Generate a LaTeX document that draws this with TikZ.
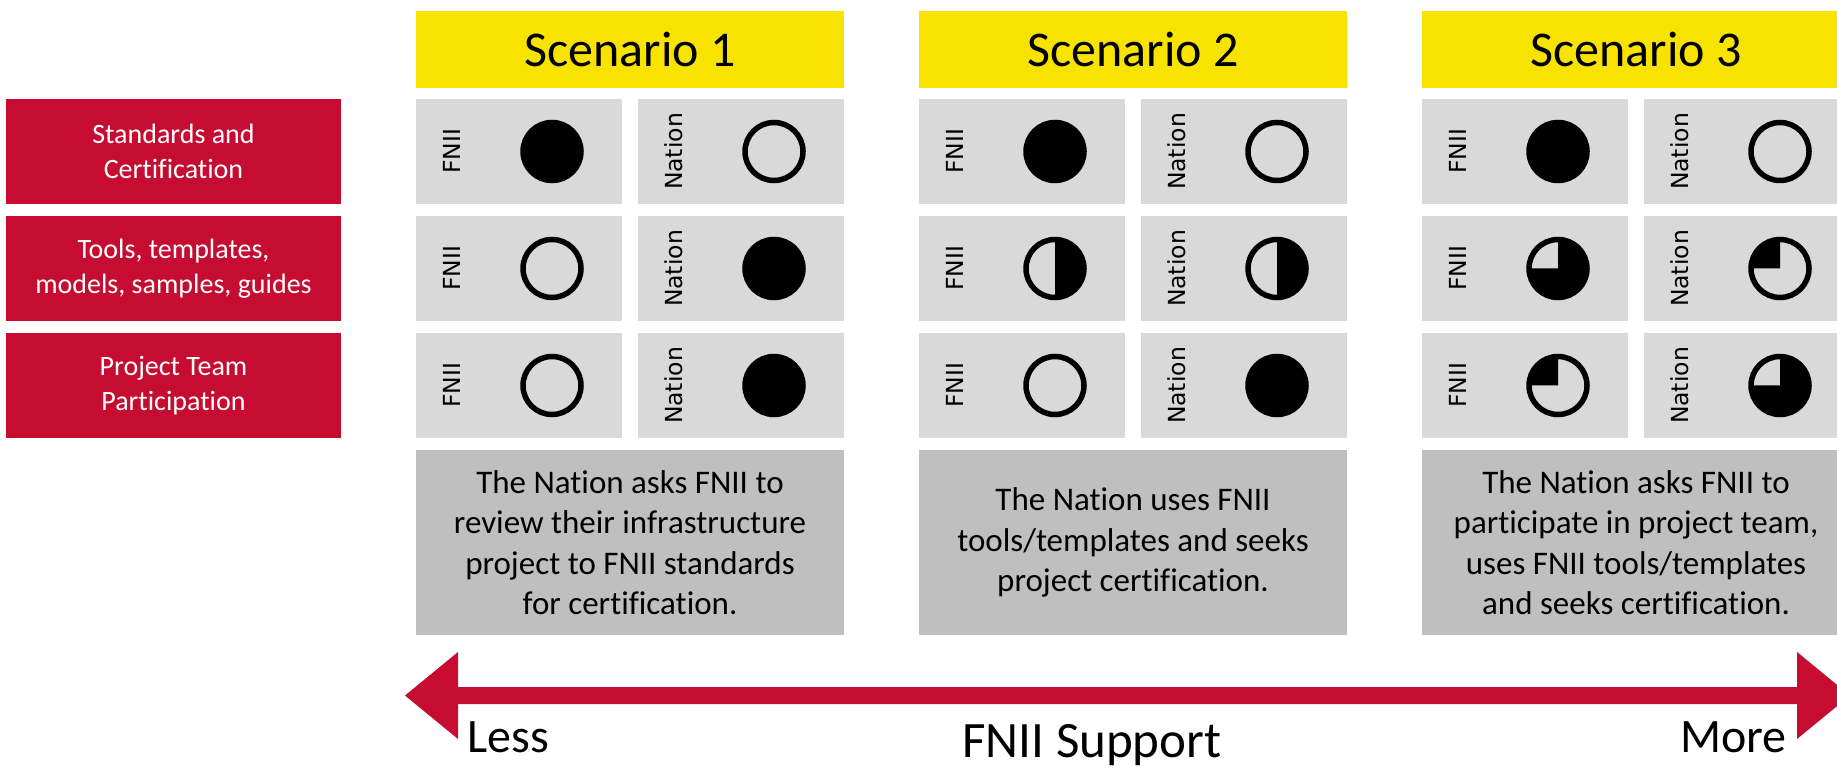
\documentclass[tikz,border=0pt]{standalone}
\usepackage{fontspec}
\setmainfont{Carlito}[Ligatures=NoCommon]
\newfontfamily\labfont{DejaVu Sans}
\usetikzlibrary{calc}
\definecolor{fred}{HTML}{C60C30}
\definecolor{fyel}{HTML}{F7E200}
\definecolor{cellg}{HTML}{D9D9D9}
\definecolor{descg}{HTML}{BFBFBF}
\def\cR{29}
% #1: 0 empty, 1 quarter, 2 half, 3 three-quarter, 4 full
\newcommand\stat[3]{%
  \ifcase#1 \or
    \fill (#2,#3) -- ++(-\cR,0) arc[start angle=180,end angle=270,radius=\cR] -- cycle;
  \or
    \fill (#2,#3) -- ++(0,-\cR) arc[start angle=270,end angle=450,radius=\cR] -- cycle;
  \or
    \fill (#2,#3) -- ++(0,-\cR) arc[start angle=270,end angle=540,radius=\cR] -- cycle;
  \or
    \fill (#2,#3) circle[radius=\cR];
  \fi
  \draw[line width=5.5pt] (#2,#3) circle[radius=\cR];}
\tikzset{
  redbox/.style={fill=fred, text=white, minimum width=335pt, minimum height=105pt,
    inner sep=0pt, outer sep=0pt, align=center, anchor=north west,
    font=\fontsize{28}{35}\selectfont},
  hdr/.style={fill=fyel, minimum width=428pt, minimum height=77pt, inner sep=0pt,
    outer sep=0pt, anchor=north west, font=\fontsize{50}{60}\selectfont},
  cell/.style={fill=cellg, minimum width=206pt, minimum height=105pt, inner sep=0pt,
    outer sep=0pt, anchor=north west},
  lab/.style={rotate=90, inner sep=0pt, font=\labfont\fontsize{23.5}{28}\selectfont},
  desc/.style={fill=descg, minimum width=428pt, minimum height=185pt, inner sep=0pt,
    outer sep=0pt, align=center, anchor=north west, font=\fontsize{33}{40.5}\selectfont},
  big/.style={inner sep=0pt, anchor=base west, font=\fontsize{48}{56}\selectfont}
}
\begin{document}
\begin{tikzpicture}[x=1pt,y=-1pt]
\useasboundingbox (0,0) rectangle (1837,775);
\clip (0,0) rectangle (1837,775);
\fill[white] (0,0) rectangle (1837,775);

\node[redbox] (r1) at (6,99) {Standards and\\Certification};
\node[redbox] (r2) at (6,216) {Tools, templates,\\models, samples, guides};
\node[redbox] (r3) at (6,333) {Project Team\\Participation};

\foreach \s/\xo/\a/\b/\c/\d/\e/\f in {1/416/4/0/0/4/0/4, 2/919/4/0/2/2/0/4, 3/1422/4/0/3/1/1/3}{
  \node[hdr] (h\s) at (\xo,11) {Scenario \s};
  \foreach \r/\yt/\p/\q in {1/99/\a/\b, 2/216/\c/\d, 3/333/\e/\f}{
    \node[cell] (f\s\r) at (\xo,\yt) {};
    \node[cell] (n\s\r) at (\xo+222,\yt) {};
    \node[lab] (fl\s\r) at ([xshift=36pt]f\s\r.west) {FNII};
    \node[lab] (nl\s\r) at ([xshift=36pt]n\s\r.west) {Nation};
    \stat{\p}{\xo+136}{\yt+52.5}
    \stat{\q}{\xo+358}{\yt+52.5}
  }
}

\node[desc] (d1) at (416,450) {The Nation asks FNII to\\review their infrastructure\\project to FNII standards\\for certification.};
\node[desc] (d2) at (919,450) {The Nation uses FNII\\tools/templates and seeks\\project certification.};
\node[desc] (d3) at (1422,450) {The Nation asks FNII to\\participate in project team,\\uses FNII tools/templates\\and seeks certification.};

\coordinate (aL) at (405,695.5);
\coordinate (aR) at (1850,695.5);
\fill[fred] (aL) -- ++(53,-43.5) -- ++(0,35) -- ($(aR)+(-53,-8.5)$) -- ++(0,-35) -- (aR)
  -- ++(-53,43.5) -- ++(0,-35) -- ($(aL)+(53,8.5)$) -- ++(0,35) -- cycle;

\node[big] (less) at (467,752) {Less};
\node[big] (more) at (1680,752) {More};
\node[big, anchor=base, font=\fontsize{51}{60}\selectfont] (sup) at (1092,757) {FNII Support};
\end{tikzpicture}
\end{document}
